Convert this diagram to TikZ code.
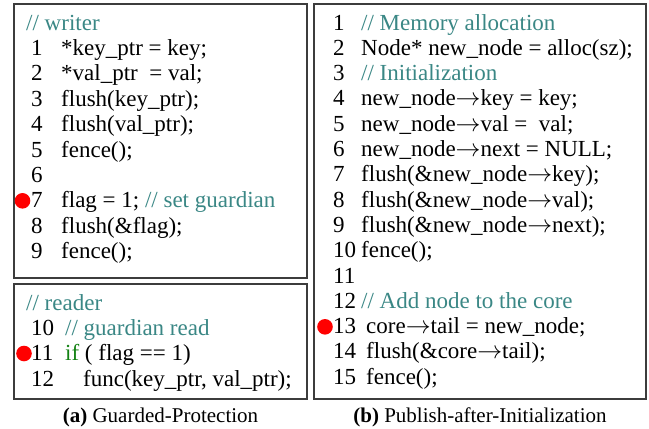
\documentclass[tikz,border=0pt]{standalone}
\usepackage{fontspec}
\setmainfont{Liberation Serif}
\definecolor{cmt}{RGB}{58,135,133}
\definecolor{kw}{RGB}{20,130,20}
\definecolor{boxc}{RGB}{60,60,60}
\newcommand{\myarr}{\ensuremath{\rightarrow}}
\begin{document}
\begin{tikzpicture}[x=1pt,y=-1pt,
  codetext/.style={anchor=base west,inner sep=0pt,text height=16pt,text depth=4pt,font=\fontsize{23}{25}\selectfont},
  captext/.style={anchor=base,inner sep=0pt,font=\fontsize{21}{25}\selectfont},
  panel/.style={draw=boxc,line width=1.1pt},
  reddot/.style={fill=red,draw=none}]
\useasboundingbox (0,0) rectangle (649,429);
% boxes
\draw[panel] (14,4) rectangle (307,278);
\draw[panel] (14,284) rectangle (307,399);
\draw[panel] (314,4) rectangle (646,399);
% writer
\node[codetext,text=cmt] (wc) at (26,30) {// writer};
\foreach \i/\t in {1/{*key\_ptr = key;},2/{*val\_ptr\ \ = val;},3/{flush(key\_ptr);},4/{flush(val\_ptr);},5/{fence();},6/{},7/{flag = 1; \textcolor{cmt}{// set guardian}},8/{flush(\&flag);},9/{fence();}}{
  \node[codetext] (wn\i) at (31,30+25.4*\i) {\i};
  \node[codetext] (wl\i) at (61,30+25.4*\i) {\t};
}
\fill[reddot] (22.5,200.8) circle (7.8);
% reader
\node[codetext,text=cmt] (rc) at (26,310) {// reader};
\node[codetext] (rn10) at (31,335.4) {10};
\node[codetext,text=cmt] (rl10) at (65,335.4) {// guardian read};
\node[codetext] (rn11) at (31,360.8) {11};
\node[codetext] (rl11) at (65,360.8) {\textcolor{kw}{if} ( flag == 1)};
\node[codetext] (rn12) at (31,386.2) {12};
\node[codetext] (rl12) at (83,386.2) {func(key\_ptr, val\_ptr);};
\fill[reddot] (24,353.5) circle (7.8);
% publish
\foreach \i/\t/\xx in {1/{\textcolor{cmt}{// Memory allocation}}/361,
  2/{Node* new\_node = alloc(sz);}/361,
  3/{\textcolor{cmt}{// Initialization}}/361,
  4/{new\_node\myarr key = key;}/361,
  5/{new\_node\myarr val =\ \ val;}/361,
  6/{new\_node\myarr next = NULL;}/361,
  7/{flush(\&new\_node\myarr key);}/361,
  8/{flush(\&new\_node\myarr val);}/361,
  9/{flush(\&new\_node\myarr next);}/361,
  10/{fence();}/361,
  11/{}/361,
  12/{\textcolor{cmt}{// Add node to the core}}/361,
  13/{core\myarr tail = new\_node;}/366,
  14/{flush(\&core\myarr tail);}/366,
  15/{fence();}/366}{
  \node[codetext] (bn\i) at (333,30+25.3*\i-25.3) {\i};
  \node[codetext] (bl\i) at (\xx,30+25.3*\i-25.3) {\t};
}
\fill[reddot] (325,326.8) circle (7.8);
% captions
\node[captext] (capa) at (160.5,422) {\textbf{(a)} Guarded-Protection};
\node[captext] (capb) at (480,422) {\textbf{(b)} Publish-after-Initialization};
\end{tikzpicture}
\end{document}
